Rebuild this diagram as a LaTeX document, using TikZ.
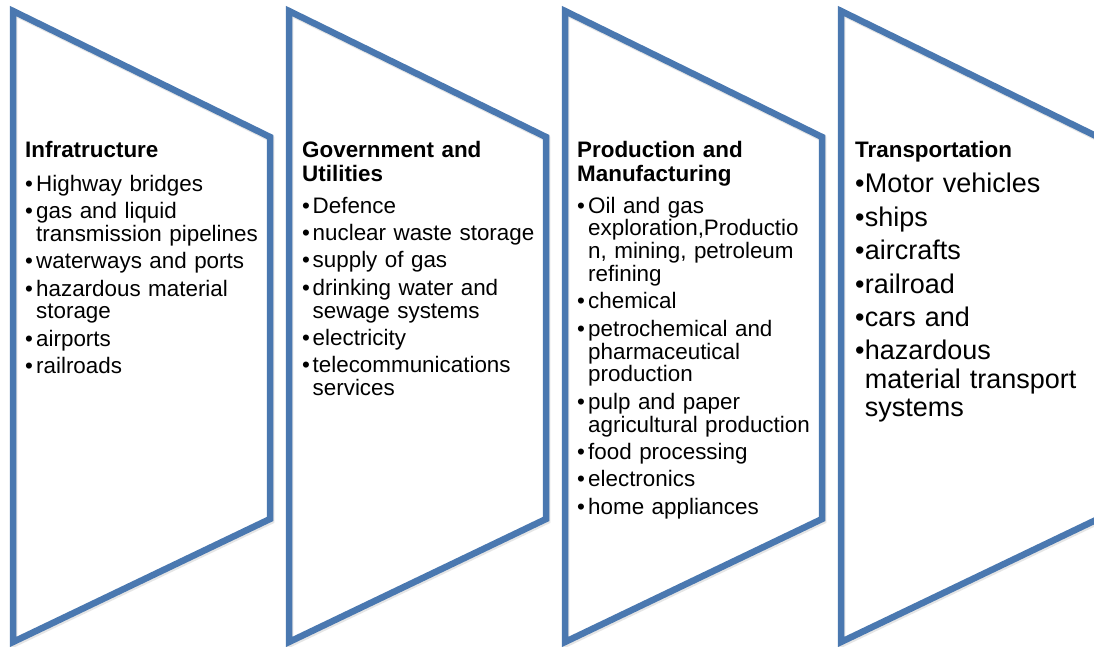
\documentclass[tikz,border=0pt]{standalone}
\usepackage{fontspec}
\setmainfont{Liberation Sans}
\definecolor{frameblue}{RGB}{74,120,176}
% bullet item: bullet in a box of width #1, continuation lines indented by #1
\newcommand\bltfirst[1]{\hangindent=#1\hangafter=1\makebox[#1][l]{\textbullet}}
\newcommand\blt[1]{\par\hangindent=#1\hangafter=1\noindent\makebox[#1][l]{\textbullet}}
\newcommand\itemgap[1]{\setlength\parskip{#1}}

\begin{document}
\begin{tikzpicture}[x=1pt,y=-1pt,
  panel/.style={draw=frameblue,line width=6.5pt,line join=miter},
  panelshadow/.style={draw=black!40,line width=6.5pt,opacity=0.25},
  head/.style={anchor=base west,inner sep=0pt,text width=250pt,align=left,
    font=\fontsize{22.4}{23.2}\selectfont\bfseries},
  body/.style={anchor=base west,inner sep=0pt,text width=262pt,align=left,
    font=\fontsize{22.4}{22.8}\selectfont},
  bigbody/.style={anchor=base west,inner sep=0pt,text width=235pt,align=left,
    font=\fontsize{27}{28.2}\selectfont}]
\clip (0,0) rectangle (1094,647);
\fill[white] (0,0) rectangle (1094,647);

% four pentagon panels
\foreach \L in {13,289,565,841}{
  \draw[panelshadow,shift={(1.2,1.8)}] (\L,11) -- (\L+257,137) -- (\L+257,519) -- (\L,642) -- cycle;
  \draw[panel] (\L,11) -- (\L+257,137) -- (\L+257,519) -- (\L,642) -- cycle;
}

% infrastructure
\node[head] (h1) at (25,158) {Infratructure};
\node[body] (b1) at (25,191) {\itemgap{4.6pt}%
\bltfirst{11pt}Highway bridges
\blt{11pt}gas and liquid\newline transmission pipelines
\blt{11pt}waterways and ports
\blt{11pt}hazardous material\newline storage
\blt{11pt}airports
\blt{11pt}railroads\par};

% government and utilities
\node[head] (h2) at (302,158) {Government and\newline Utilities};
\node[body] (b2) at (302,213) {\itemgap{4.6pt}%
\bltfirst{10.5pt}Defence
\blt{10.5pt}nuclear waste storage
\blt{10.5pt}supply of gas
\blt{10.5pt}drinking water and\newline sewage systems
\blt{10.5pt}electricity
\blt{10.5pt}telecommunications\newline services\par};

% production and manufacturing
\node[head] (h3) at (577,158) {Production and\newline Manufacturing};
\node[body] (b3) at (577,213) {\itemgap{4.6pt}%
\bltfirst{11pt}Oil and gas\newline exploration,Productio\newline n, mining, petroleum\newline refining
\blt{11pt}chemical
\blt{11pt}petrochemical and\newline pharmaceutical\newline production
\blt{11pt}pulp and paper\newline agricultural production
\blt{11pt}food processing
\blt{11pt}electronics
\blt{11pt}home appliances\par};

% transportation
\node[head] (h4) at (855,158) {Transportation};
\node[bigbody] (b4) at (855,193) {\itemgap{5.2pt}%
\bltfirst{9.6pt}Motor vehicles
\blt{9.6pt}ships
\blt{9.6pt}aircrafts
\blt{9.6pt}railroad
\blt{9.6pt}cars and
\blt{9.6pt}hazardous\newline material transport\newline systems\par};
\end{tikzpicture}
\end{document}
